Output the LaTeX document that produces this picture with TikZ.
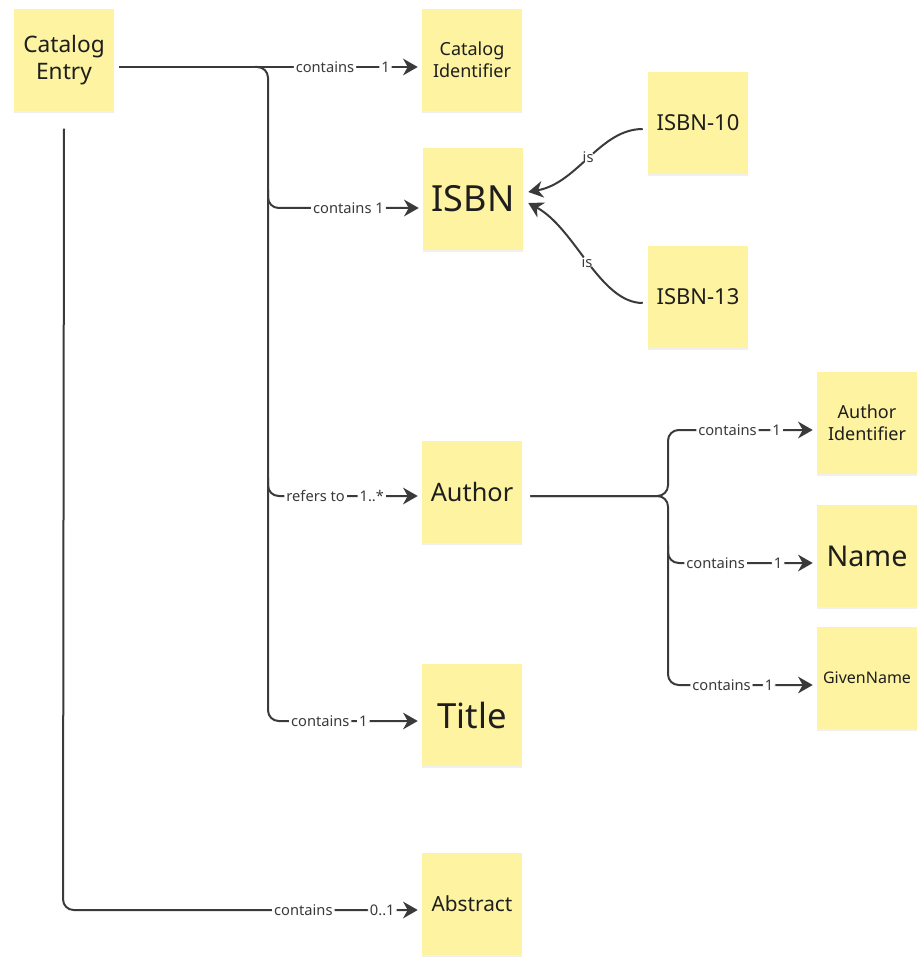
\documentclass[tikz,border=0pt]{standalone}
\usepackage{fontspec}
\setmainfont{Noto Sans}
\usetikzlibrary{arrows.meta,calc,shadows}
\definecolor{sticky}{RGB}{253,243,160}
\definecolor{wire}{RGB}{58,58,58}
\definecolor{ink}{RGB}{30,30,30}
\newcommand{\fs}[1]{\fontsize{#1}{1.2\dimexpr#1pt\relax}\selectfont}

\begin{document}
\begin{tikzpicture}[x=0.75pt,y=0.75pt]
\tikzstyle{note}=[rectangle, fill=sticky, text=ink, align=center, minimum width=75pt, minimum height=77pt, inner sep=2pt,
  drop shadow={opacity=0.12, shadow xshift=0pt, shadow yshift=-1.5pt}]
\tikzstyle{line}=[draw=wire, line width=1.5pt, rounded corners=8]
\tikzstyle{conn}=[line, -{Stealth[length=11pt,width=12.5pt,inset=3.5pt]}, shorten >=3pt]
\tikzstyle{lbl}=[fill=white, text=wire, inner sep=1.5pt, font=\fs{11}]
\useasboundingbox (0,0) rectangle (923,-962);

\node[note, font=\fs{17}] (CE) at (64,-60) {Catalog\\Entry};
\node[note, font=\fs{13.5}] (CI) at (472,-60) {Catalog\\Identifier};
\node[note, font=\fs{27}] (ISBN) at (473,-199) {ISBN};
\node[note, font=\fs{16.5}] (I10) at (698,-123) {ISBN-10};
\node[note, font=\fs{16.5}] (I13) at (698,-297) {ISBN-13};
\node[note, font=\fs{19}] (Au) at (472,-492) {Author};
\node[note, font=\fs{13.5}] (AI) at (867,-423) {Author\\Identifier};
\node[note, font=\fs{21.5}] (Na) at (867,-556) {Name};
\node[note, font=\fs{12}] (GN) at (867,-678) {GivenName};
\node[note, font=\fs{26}] (Ti) at (472,-715) {Title};
\node[note, font=\fs{15.6}] (Ab) at (472,-904) {Abstract};

% catalog entry
\draw[conn] ($(CE.east)+(5,-7)$) -- ($(CI.west)+(0,-7)$)
  node[lbl, pos=.68] {contains} node[lbl, pos=.88] {1};
\draw[conn] (255,-67) -| (268,-721) -- ($(Ti.west)+(0,-6)$)
  node[lbl, pos=.34] {contains} node[lbl, pos=.62] {1};
\draw[conn] (268,-190) -- (268,-208) -- ($(ISBN.west)+(0,-9)$)
  node[lbl, pos=.52] {contains 1};
\draw[conn] (268,-478) -- (268,-496) -- ($(Au.west)+(0,-4)$)
  node[lbl, pos=.31] {refers to} node[lbl, pos=.675] {1..*};
\draw[conn] ($(CE.south)+(0,-17)$) -- (63,-910) -- ($(Ab.west)+(0,-6)$)
  node[lbl, pos=.67] {contains} node[lbl, pos=.89] {0..1};

% isbn kinds
\draw[conn, shorten >=0pt] ($(I10.west)+(-5,-6)$) .. controls (600,-129) and (578,-183) ..
  node[lbl] {is} ($(ISBN.east)+(5,7)$);
\draw[conn, shorten >=0pt] ($(I13.west)+(-5,-6)$) .. controls (600,-303) and (575,-228) ..
  node[lbl] {is} ($(ISBN.east)+(5,-4)$);

% author
\draw[conn] ($(Au.east)+(8,-4)$) -| (668,-430) -- ($(AI.west)+(0,-7)$)
  node[lbl, pos=.40] {contains} node[lbl, pos=.73] {1};
\draw[conn] ($(Au.east)+(8,-4)$) -| (668,-685) -- ($(GN.west)+(0,-7)$)
  node[lbl, pos=.36] {contains} node[lbl, pos=.68] {1};
\draw[conn] (668,-545) -- (668,-563) -- ($(Na.west)+(0,-7)$)
  node[lbl, pos=.32] {contains} node[lbl, pos=.74] {1};

\end{tikzpicture}
\end{document}
